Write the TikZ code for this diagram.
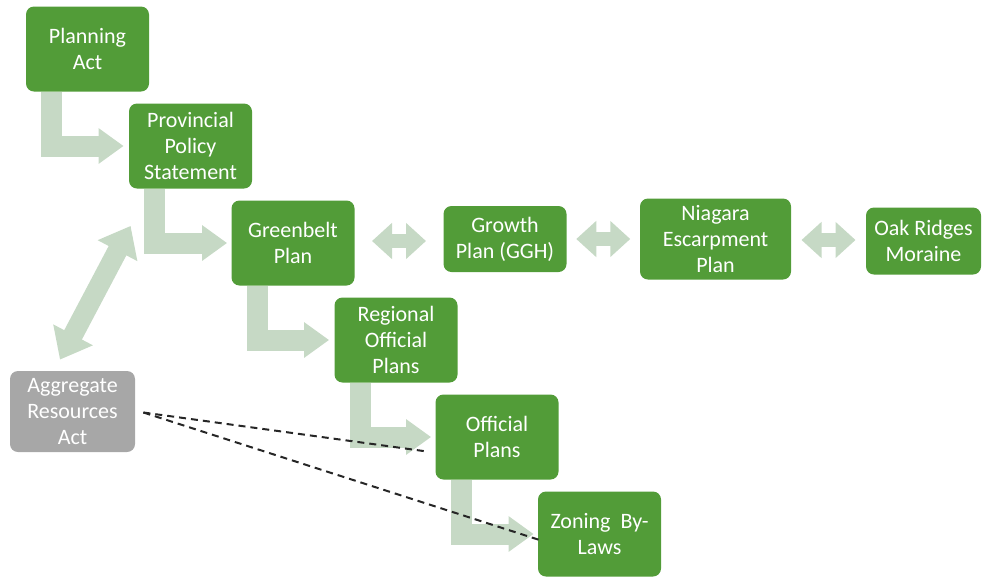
\documentclass[tikz,border=0pt]{standalone}
\usepackage{fontspec}
\setmainfont{Carlito}
\usetikzlibrary{arrows.meta}
\usetikzlibrary{calc,positioning}
\definecolor{lawgreen}{RGB}{82,156,56}
\definecolor{actgrey}{RGB}{167,167,167}
\definecolor{flowgreen}{RGB}{198,217,197}
\tikzstyle{base} = [rectangle, rounded corners=4pt, minimum width=61.5pt, minimum height=42.5pt, inner sep=2pt, align=center, text=white, font=\fontsize{11}{13}\selectfont]
\tikzstyle{plan} = [base, fill=lawgreen]
\tikzstyle{flatplan} = [plan, minimum height=33pt]
\tikzstyle{act} = [base, fill=actgrey, minimum width=62.5pt, minimum height=40.5pt]
\tikzstyle{flow} = [draw=flowgreen, line width=10.5pt, -{Triangle[length=12.5pt,width=17pt]}]
\tikzstyle{link} = [draw=flowgreen, line width=7pt, {Triangle[length=10pt,width=17.5pt]}-{Triangle[length=10pt,width=17.5pt]}]
\tikzstyle{uplink} = [link, line width=10pt, {Triangle[length=14pt,width=21.5pt]}-{Triangle[length=14pt,width=21.5pt]}]
\tikzstyle{dashlink} = [draw=black!85, line width=1pt, dash pattern=on 3.5pt off 2.5pt]

\begin{document}
\begin{tikzpicture}[x=0.5pt, y=-0.5pt, node distance=48.5pt]
    \useasboundingbox (0,0) rectangle (983,579);

    \node (planning) [plan] at (87.5,49) {Planning\\Act};
    \node (pps) [plan, below of=planning, xshift=51.5pt] {Provincial\\Policy\\Statement};
    \node (greenbelt) [plan, below of=pps, xshift=51.25pt] {Greenbelt\\Plan};
    \node (regional) [plan, below of=greenbelt, xshift=51.5pt] {Regional\\Official\\Plans};
    \node (official) [plan, below of=regional, xshift=50.5pt] {Official\\Plans};
    \node (zoning) [plan, below of=official, xshift=51.25pt] {Zoning\ \ By-\\Laws};
    \node (growth) [flatplan, right of=greenbelt, xshift=57.5pt, yshift=2pt] {Growth\\Plan (GGH)};
    \node (niagara) [plan, minimum width=75.5pt, minimum height=40.5pt, right of=growth, xshift=56.75pt] {Niagara\\Escarpment\\Plan};
    \node (oak) [flatplan, minimum width=57.5pt, minimum height=33.5pt, right of=niagara, xshift=55.5pt, yshift=-1pt] {Oak Ridges\\Moraine};
    \node (aggregate) [act] at (72.5,411.5) {Aggregate\\Resources\\Act};

    % stepped flow down the hierarchy
    \draw[flow] ($(planning.south west)+(26,0)$) |- ($(pps.west)+(-5,0)$);
    \draw[flow] ($(pps.south west)+(26,0)$) |- ($(greenbelt.west)+(-4,0)$);
    \draw[flow] ($(greenbelt.south west)+(26,0)$) |- ($(regional.west)+(-5,0)$);
    \draw[flow] ($(regional.south west)+(26,0)$) |- ($(official.west)+(-4,0)$);
    \draw[flow] ($(official.south west)+(26,0)$) |- ($(zoning.west)+(-4,0)$);

    % provincial plans side by side
    \draw[link] ($(greenbelt.east)!.5!(growth.west)+(-27,0)$) -- ($(greenbelt.east)!.5!(growth.west)+(27,0)$);
    \draw[link] ($(growth.east)!.5!(niagara.west)+(-27,0)$) -- ($(growth.east)!.5!(niagara.west)+(27,0)$);
    \draw[link] ($(niagara.east)!.5!(oak.west)+(-27,0)$) -- ($(niagara.east)!.5!(oak.west)+(27,0)$);
    \draw[uplink] ($(aggregate.north)+(-12.5,-11)$) -- ($(pps.south west)+(2,37)$);

    % aggregate act reaching the local level
    \draw[dashlink] ($(aggregate.east)+(8,1)$) -- ($(official.west)+(-8,14.5)$);
    \draw[dashlink] ($(aggregate.east)+(8,1)$) -- ($(zoning.west)+(2,6)$);
\end{tikzpicture}
\end{document}
